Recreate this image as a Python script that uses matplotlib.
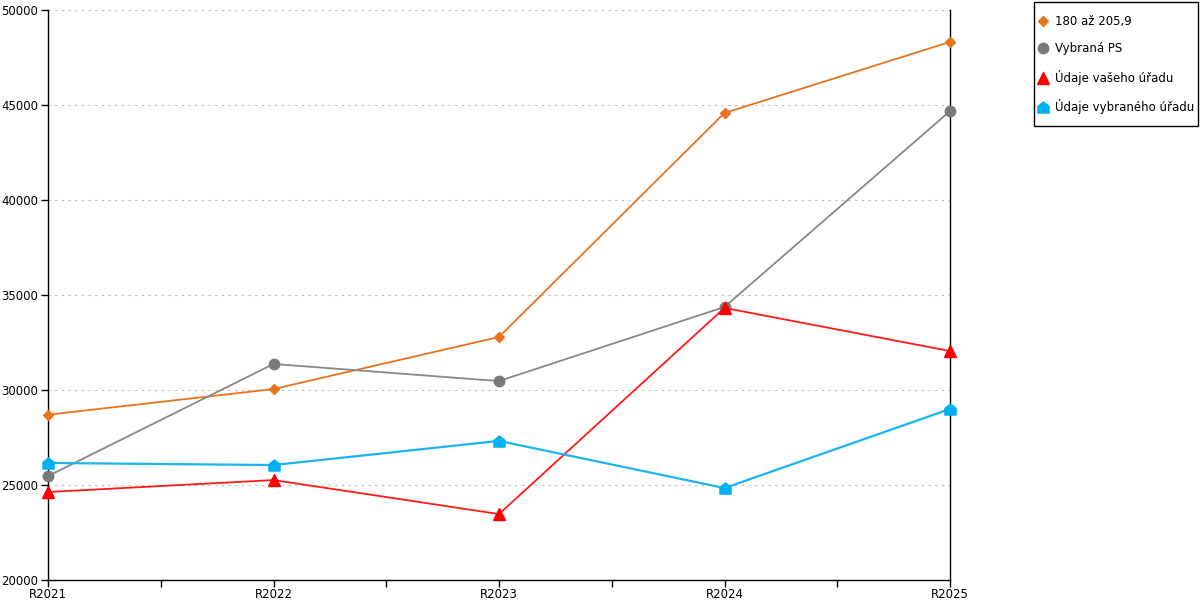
import matplotlib.pyplot as plt
import numpy as np
from matplotlib.path import Path
from matplotlib.patches import Rectangle
from matplotlib.ticker import MultipleLocator

# Data
years = ["R2021", "R2022", "R2023", "R2024", "R2025"]
orange = [28700, 30050, 32790, 44580, 48320]   # 180 až 205,9
gray = [25470, 31370, 30470, 34370, 44680]     # Vybraná PS
red = [24630, 25260, 23470, 34320, 32050]      # Údaje vašeho úřadu
blue = [26160, 26050, 27320, 24840, 29000]     # Údaje vybraného úřadu

labels = ["180 až 205,9", "Vybraná PS", "Údaje vašeho úřadu", "Údaje vybraného úřadu"]

# house shaped marker (square with a roof)
house = Path([(-1, -1), (1, -1), (1, 0.2), (0, 1), (-1, 0.2), (-1, -1)],
             [Path.MOVETO, Path.LINETO, Path.LINETO, Path.LINETO, Path.LINETO, Path.CLOSEPOLY])

plt.rcParams['font.family'] = ['DejaVu Sans']

fig = plt.figure(figsize=(12, 6), dpi=100)
ax = fig.add_axes([48/1200, 20/600, 902/1200, 570/600])

x = np.arange(len(years))

ax.plot(x, orange, c='#E8731E', linewidth=1.3, marker='D', markersize=5.5, label=labels[0], clip_on=False, zorder=3)
ax.plot(x, gray, c='#888888', linewidth=1.3, marker='o', markersize=7.5, markerfacecolor='#7a7a7a', markeredgecolor='#7a7a7a', label=labels[1], clip_on=False, zorder=3)
ax.plot(x, red, c='#FF1A1A', linewidth=1.3, marker='^', markersize=8.5, markerfacecolor='#FF0000', markeredgecolor='#FF0000', label=labels[2], clip_on=False, zorder=3)
ax.plot(x, blue, c='#1AB4EE', linewidth=1.6, marker=house, markersize=8, markerfacecolor='#00B0F0', markeredgecolor='#00B0F0', label=labels[3], clip_on=False, zorder=3)

ax.set_xlim(0, 4)
ax.set_ylim(20000, 50000)
ax.set_xticks(x)
ax.set_xticklabels(years, fontsize=8.5)
ax.xaxis.set_minor_locator(MultipleLocator(0.5))
ax.yaxis.set_major_locator(MultipleLocator(5000))
ax.tick_params(axis='y', labelsize=8.5, length=5, width=1, pad=2)
ax.tick_params(axis='x', which='major', length=5, width=1, pad=1)
ax.tick_params(axis='x', which='minor', length=5, width=1)

ax.grid(axis='y', linestyle=(0, (2, 4)), color='#bbbbbb', linewidth=0.8)
ax.set_axisbelow(True)

ax.spines['top'].set_visible(False)
for s in ['left', 'bottom', 'right']:
    ax.spines[s].set_color('black')
    ax.spines[s].set_linewidth(1)

# legend without its own frame, box drawn separately
leg = fig.legend(loc='upper left', bbox_to_anchor=(1040/1200, 1 - 15/600), fontsize=8.5,
                 frameon=False, borderpad=0, borderaxespad=0, labelspacing=1.22,
                 handlelength=0.5, handletextpad=0.8)
for h in leg.legend_handles:
    h.set_linestyle('None')
fig.patches.append(Rectangle((1034/1200, 1 - 126/600), 164/1200, 124/600,
                             transform=fig.transFigure, fill=False,
                             edgecolor='black', linewidth=1))

fig.savefig('out.png', dpi=100)
